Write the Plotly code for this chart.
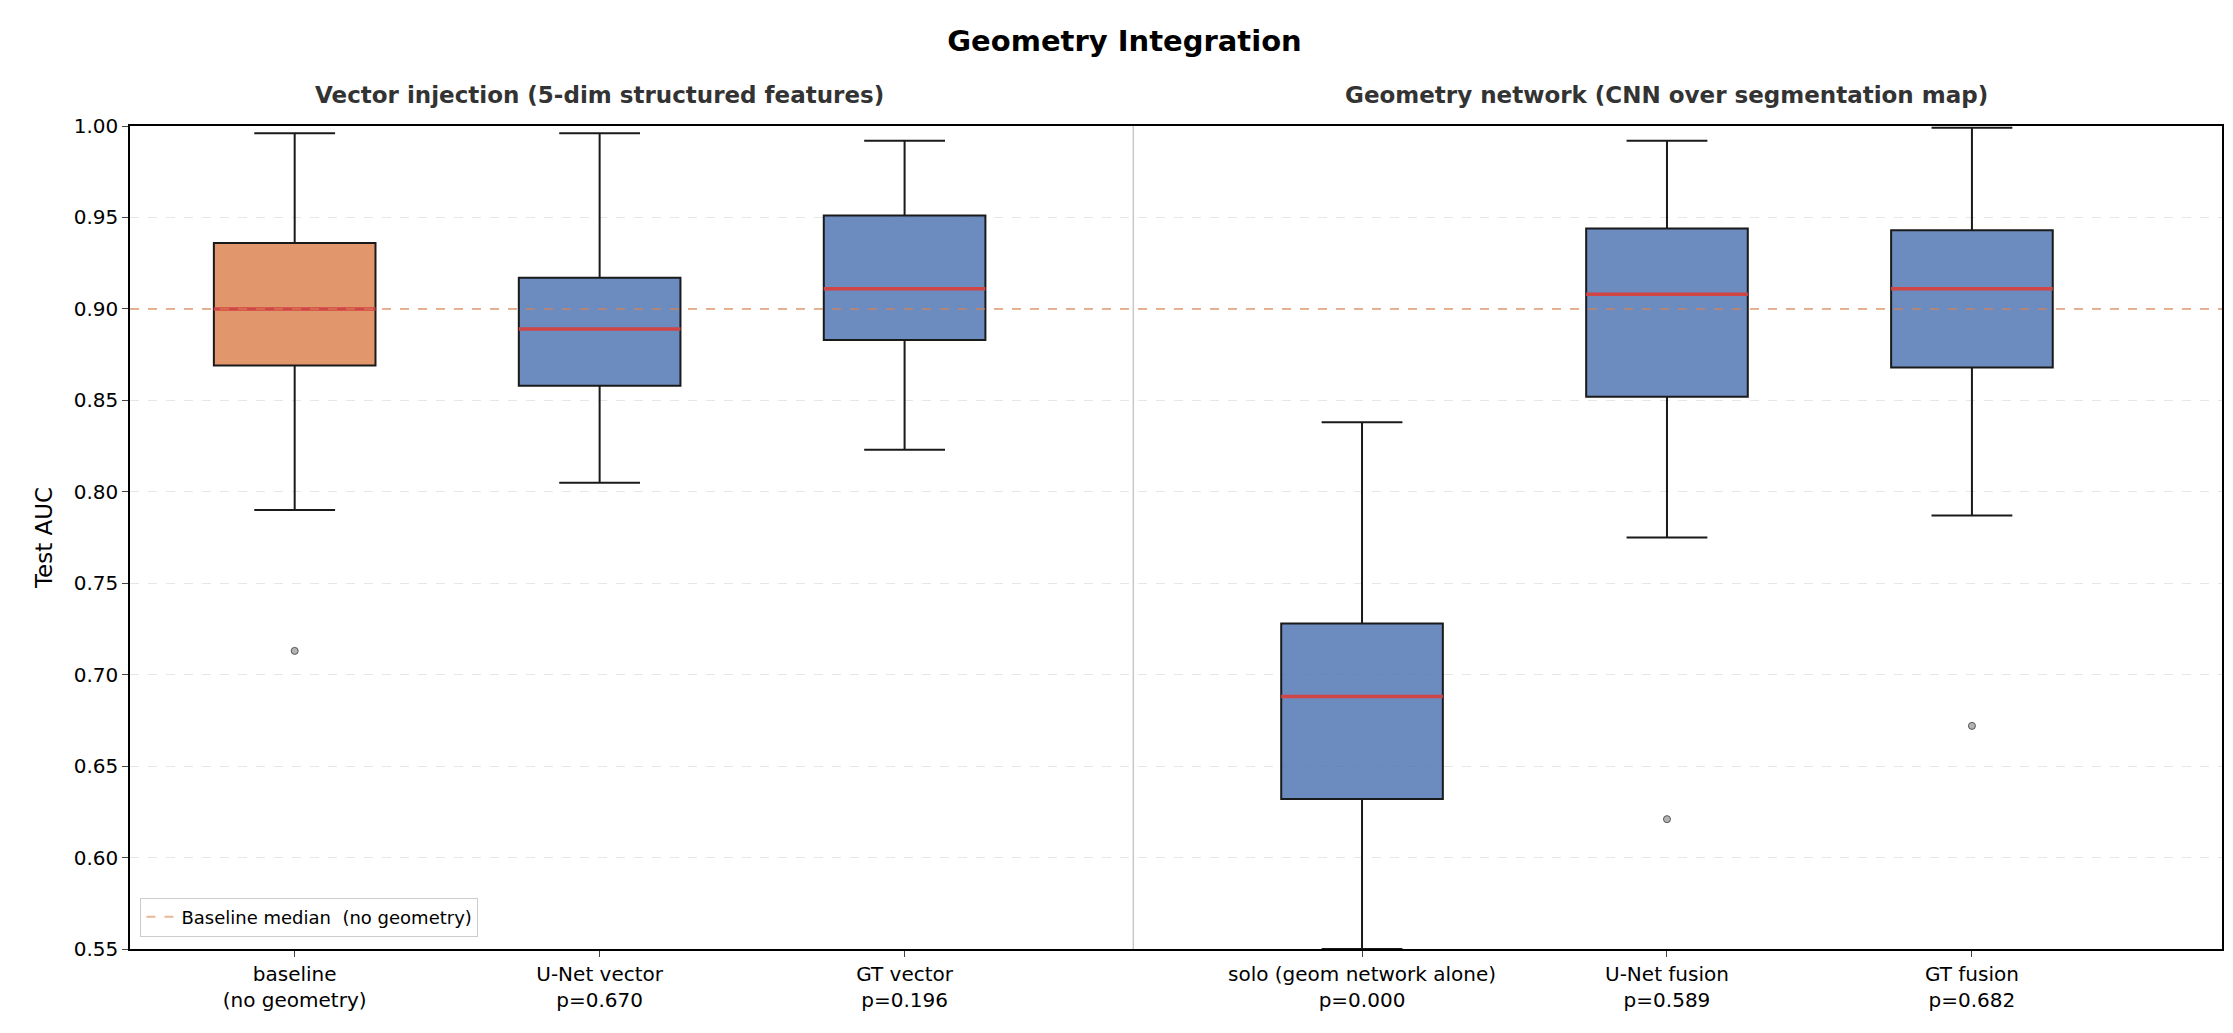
import plotly.graph_objects as go

# box statistics
labels = ["baseline<br>(no geometry)", "U-Net vector<br>p=0.670", "GT vector<br>p=0.196",
          "solo (geom network alone)<br>p=0.000", "U-Net fusion<br>p=0.589", "GT fusion<br>p=0.682"]
positions = [1, 2, 3, 4.5, 5.5, 6.5]
upper = [0.996, 0.996, 0.992, 0.838, 0.992, 0.999]
q3 = [0.936, 0.917, 0.951, 0.728, 0.944, 0.943]
median = [0.900, 0.889, 0.911, 0.688, 0.908, 0.911]
q1 = [0.869, 0.858, 0.883, 0.632, 0.852, 0.868]
lower = [0.790, 0.805, 0.823, 0.550, 0.775, 0.787]
outlier_x = [1, 5.5, 6.5]
outlier_y = [0.713, 0.621, 0.672]

orange = "rgba(221,132,82,0.85)"
blue = "rgba(76,114,176,0.82)"
box_w = 0.53
xr = [0.46, 7.32]

fig = go.Figure()
for i, p in enumerate(positions):
    fig.add_trace(go.Box(
        x=[p], q1=[q1[i]], median=[median[i]], q3=[q3[i]],
        lowerfence=[lower[i]], upperfence=[upper[i]],
        width=box_w, whiskerwidth=0.5,
        fillcolor=orange if i == 0 else blue,
        line=dict(color="#1a1a1a", width=2), showlegend=False, hoverinfo="skip"))
    fig.add_trace(go.Scatter(
        x=[p - box_w / 2, p + box_w / 2], y=[median[i], median[i]], mode="lines",
        line=dict(color="#d04545", width=3.5), showlegend=False, hoverinfo="skip"))

fig.add_trace(go.Scatter(x=outlier_x, y=outlier_y, mode="markers",
                         marker=dict(color="rgba(128,128,128,0.6)", size=7,
                                     line=dict(color="#555", width=1)),
                         showlegend=False))
fig.add_trace(go.Scatter(x=xr, y=[median[0], median[0]], mode="lines",
                         line=dict(color="rgba(221,132,82,0.6)", width=2, dash="dash"),
                         name="Baseline median  (no geometry)"))

fig.add_vline(x=3.75, line=dict(color="#c8c8c8", width=1.5))

fig.update_layout(
    width=2233, height=1033,
    margin=dict(l=122, r=19, t=118, b=92),
    plot_bgcolor="white", paper_bgcolor="white",
    font=dict(family="DejaVu Sans", size=17, color="black"),
    title=dict(text="<b>Geometry Integration</b>", x=0.5, y=0.978, xanchor="center",
               font=dict(size=29)),
    legend=dict(x=0.005, y=0.015, xanchor="left", yanchor="bottom",
                bordercolor="#cccccc", borderwidth=1, bgcolor="white",
                font=dict(size=18)),
    annotations=[
        dict(text="<b>Vector injection (5-dim structured features)</b>", x=2.0, y=1.02,
             xref="x", yref="paper", yanchor="bottom", showarrow=False,
             font=dict(size=23, color="#333")),
        dict(text="<b>Geometry network (CNN over segmentation map)</b>", x=5.5, y=1.02,
             xref="x", yref="paper", yanchor="bottom", showarrow=False,
             font=dict(size=23, color="#333")),
    ],
)
fig.update_xaxes(range=xr, tickvals=positions, ticktext=labels, showgrid=False,
                 showline=True, linecolor="black", linewidth=1.5, mirror=True,
                 ticks="outside", ticklen=6, tickfont=dict(size=20), zeroline=False)
fig.update_yaxes(range=[0.55, 1.0], dtick=0.05, tickformat=".2f",
                 title=dict(text="Test AUC", font=dict(size=23)),
                 showgrid=True, gridcolor="#e6e6e6", griddash="dash",
                 showline=True, linecolor="black", linewidth=1.5, mirror=True,
                 ticks="outside", ticklen=6, tickfont=dict(size=20), zeroline=False)

fig.write_html("out.html")
